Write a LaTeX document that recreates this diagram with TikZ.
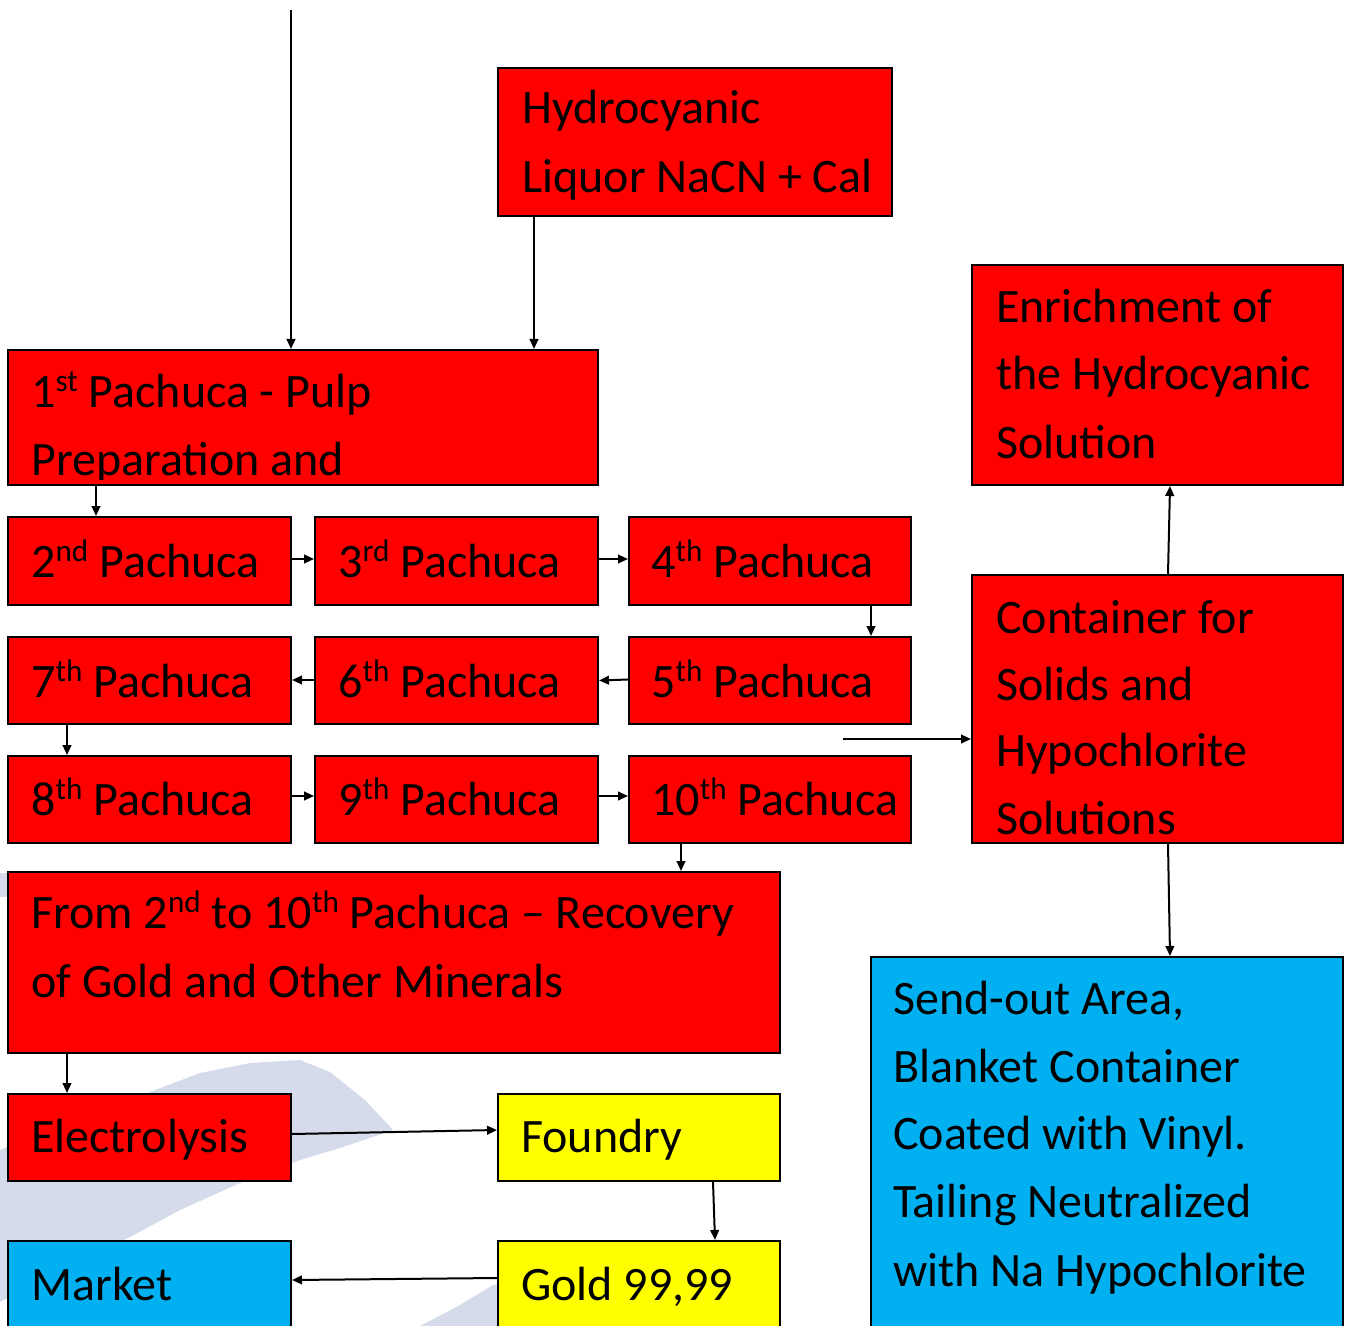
\documentclass[tikz,border=0pt]{standalone}
\usepackage{fontspec}
\setmainfont{Carlito}
\usetikzlibrary{arrows.meta,fit,calc}
\newcommand\sups[1]{\raisebox{0.33em}{\fontsize{23.4pt}{23.4pt}\selectfont #1}}
\definecolor{boxred}{RGB}{255,0,0}
\definecolor{boxyellow}{RGB}{255,255,0}
\definecolor{boxblue}{RGB}{0,176,240}
\definecolor{wmark}{RGB}{213,219,235}
\tikzset{
  rbox/.style={draw=black, line width=1.5pt, fill=boxred, inner sep=0pt},
  ybox/.style={draw=black, line width=1.5pt, fill=boxyellow, inner sep=0pt},
  bbox/.style={draw=black, line width=1.5pt, fill=boxblue, inner sep=0pt},
  txt/.style={anchor=base west, inner sep=0pt, font=\fontsize{36pt}{51pt}\selectfont},
  arr/.style={line width=1.5pt, -{Triangle[length=7.5pt,width=6.5pt]}}
}
\begin{document}
\begin{tikzpicture}[x=0.75pt,y=-0.75pt]
\useasboundingbox (0,0) rectangle (1351,1326);
\clip (0,0) rectangle (1351,1326);
\fill[white] (0,0) rectangle (1351,1326);
% watermark
\fill[wmark] (0,1150) -- (150,1092) -- (200,1073) -- (250,1063) -- (300,1060) -- (330,1072) -- (365,1100) -- (393,1130)
  -- (340,1148) -- (300,1160) -- (240,1183) -- (180,1210) -- (130,1237) -- (60,1270) -- (0,1302) -- cycle;
\fill[wmark] (420,1326) -- (460,1305) -- (493,1285) -- (500,1284) -- (500,1326) -- cycle;
\fill[wmark] (0,873) -- (22,873) -- (22,897) -- (0,897) -- cycle;
% boxes
\node[rbox, fit={(498,68) (892,216)}] (hyd) {};
\node[rbox, fit={(8,350) (598,485)}] (p1) {};
\node[rbox, fit={(972,265) (1343,485)}] (enr) {};
\node[rbox, fit={(8,517) (291,605)}] (p2) {};
\node[rbox, fit={(315,517) (598,605)}] (p3) {};
\node[rbox, fit={(629,517) (911,605)}] (p4) {};
\node[rbox, fit={(8,637) (291,724)}] (p7) {};
\node[rbox, fit={(315,637) (598,724)}] (p6) {};
\node[rbox, fit={(629,637) (911,724)}] (p5) {};
\node[rbox, fit={(8,756) (291,843)}] (p8) {};
\node[rbox, fit={(315,756) (598,843)}] (p9) {};
\node[rbox, fit={(629,756) (911,843)}] (p10) {};
\node[rbox, fit={(972,575) (1343,843)}] (cont) {};
\node[rbox, fit={(8,872) (780,1053)}] (from) {};
\node[rbox, fit={(8,1094) (291,1181)}] (elec) {};
\node[ybox, fit={(498,1094) (780,1181)}] (found) {};
\node[bbox, fit={(8,1241) (291,1345)}] (mkt) {};
\node[ybox, fit={(498,1241) (780,1345)}] (gold) {};
\node[bbox, fit={(871,957) (1343,1345)}] (snd) {};
% texts
\node[txt] (hydA) at (522,124) {Hydrocyanic};
\node[txt] (hydB) at (522,193) {Liquor NaCN + Cal};
\begin{scope}
\clip (p1.north west) rectangle ($(p1.south east)+(0,-7)$);
\node[txt] (p1A) at (31,407) {1\sups{st} Pachuca - Pulp};
\node[txt] (p1B) at (31,475) {Preparation and};
\end{scope}
\node[txt] (enrA) at (996,323) {Enrichment of};
\node[txt] (enrB) at (996,389) {the Hydrocyanic};
\node[txt] (enrC) at (996,458) {Solution};
\node[txt] (p2t) at (31,577) {2\sups{nd} Pachuca};
\node[txt] (p3t) at (338,577) {3\sups{rd} Pachuca};
\node[txt] (p4t) at (651,577) {4\sups{th} Pachuca};
\node[txt] (p7t) at (31,697) {7\sups{th} Pachuca};
\node[txt] (p6t) at (338,697) {6\sups{th} Pachuca};
\node[txt] (p5t) at (651,697) {5\sups{th} Pachuca};
\node[txt] (p8t) at (31,815) {8\sups{th} Pachuca};
\node[txt] (p9t) at (338,815) {9\sups{th} Pachuca};
\node[txt] (p10t) at (651,815) {10\sups{th} Pachuca};
\begin{scope}
\clip (cont.north west) rectangle ($(cont.south east)+(0,-7)$);
\node[txt] (contA) at (996,633) {Container for};
\node[txt] (contB) at (996,700) {Solids and};
\node[txt] (contC) at (996,766) {Hypochlorite};
\node[txt] (contD) at (996,834) {Solutions};
\end{scope}
\node[txt] (fromA) at (31,928) {From 2\sups{nd} to 10\sups{th} Pachuca – Recovery};
\node[txt] (fromB) at (31,997) {of Gold and Other Minerals};
\node[txt] (elect) at (31,1152) {Electrolysis};
\node[txt] (foundt) at (521,1152) {Foundry};
\node[txt] (mktt) at (31,1300) {Market};
\node[txt] (goldt) at (521,1300) {Gold 99,99};
\node[txt] (sndA) at (893,1014) {Send-out Area,};
\node[txt] (sndB) at (893,1082) {Blanket Container};
\node[txt] (sndC) at (893,1149) {Coated with Vinyl.};
\node[txt] (sndD) at (893,1217) {Tailing Neutralized};
\node[txt] (sndE) at (893,1286) {with Na Hypochlorite};
% connectors
\coordinate (src) at (291,10);
\draw[arr] (src) -- (src |- p1.north);
\draw[arr] ($(hyd.south west)+(37,0)$) coordinate (h1) -- (h1 |- p1.north);
\draw[arr] ($(p1.south west)+(89,0)$) coordinate (h2) -- (h2 |- p2.north);
\draw[arr] ($(p2.east)+(0,-2)$) coordinate (h3) -- (h3 -| p3.west);
\draw[arr] ($(p3.east)+(0,-2)$) coordinate (h4) -- (h4 -| p4.west);
\draw[arr] ($(p4.south west)+(243,0)$) coordinate (h5) -- (h5 |- p5.north);
\draw[arr] ($(p5.west)+(0,-1)$) -- ($(p6.east)+(0,0)$);
\draw[arr] ($(p6.west)+(0,-0.5)$) coordinate (h6) -- (h6 -| p7.east);
\draw[arr] ($(p7.south west)+(60,0)$) coordinate (h7) -- (h7 |- p8.north);
\draw[arr] ($(p8.east)+(0,-3.5)$) coordinate (h8) -- (h8 -| p9.west);
\draw[arr] ($(p9.east)+(0,-3.5)$) coordinate (h9) -- (h9 -| p10.west);
\draw[arr] ($(p10.south west)+(53,0)$) coordinate (h10) -- (h10 |- from.north);
\coordinate (fr) at (843,739);
\draw[arr] (fr) -- (fr -| cont.west);
\draw[arr] ($(cont.north west)+(197,0)$) -- ($(enr.south west)+(199,0)$);
\draw[arr] ($(cont.south west)+(197,0)$) -- ($(snd.north west)+(300,0)$);
\draw[arr] ($(from.south west)+(60,0)$) coordinate (h11) -- (h11 |- elec.north);
\draw[arr] ($(elec.east)+(0,-3.5)$) -- ($(found.west)+(0,-7.5)$);
\draw[arr] ($(found.south west)+(216,0)$) -- ($(gold.north west)+(218,0)$);
\draw[arr] ($(gold.north west)+(0,38)$) -- ($(mkt.north east)+(0,40)$);
\end{tikzpicture}
\end{document}
